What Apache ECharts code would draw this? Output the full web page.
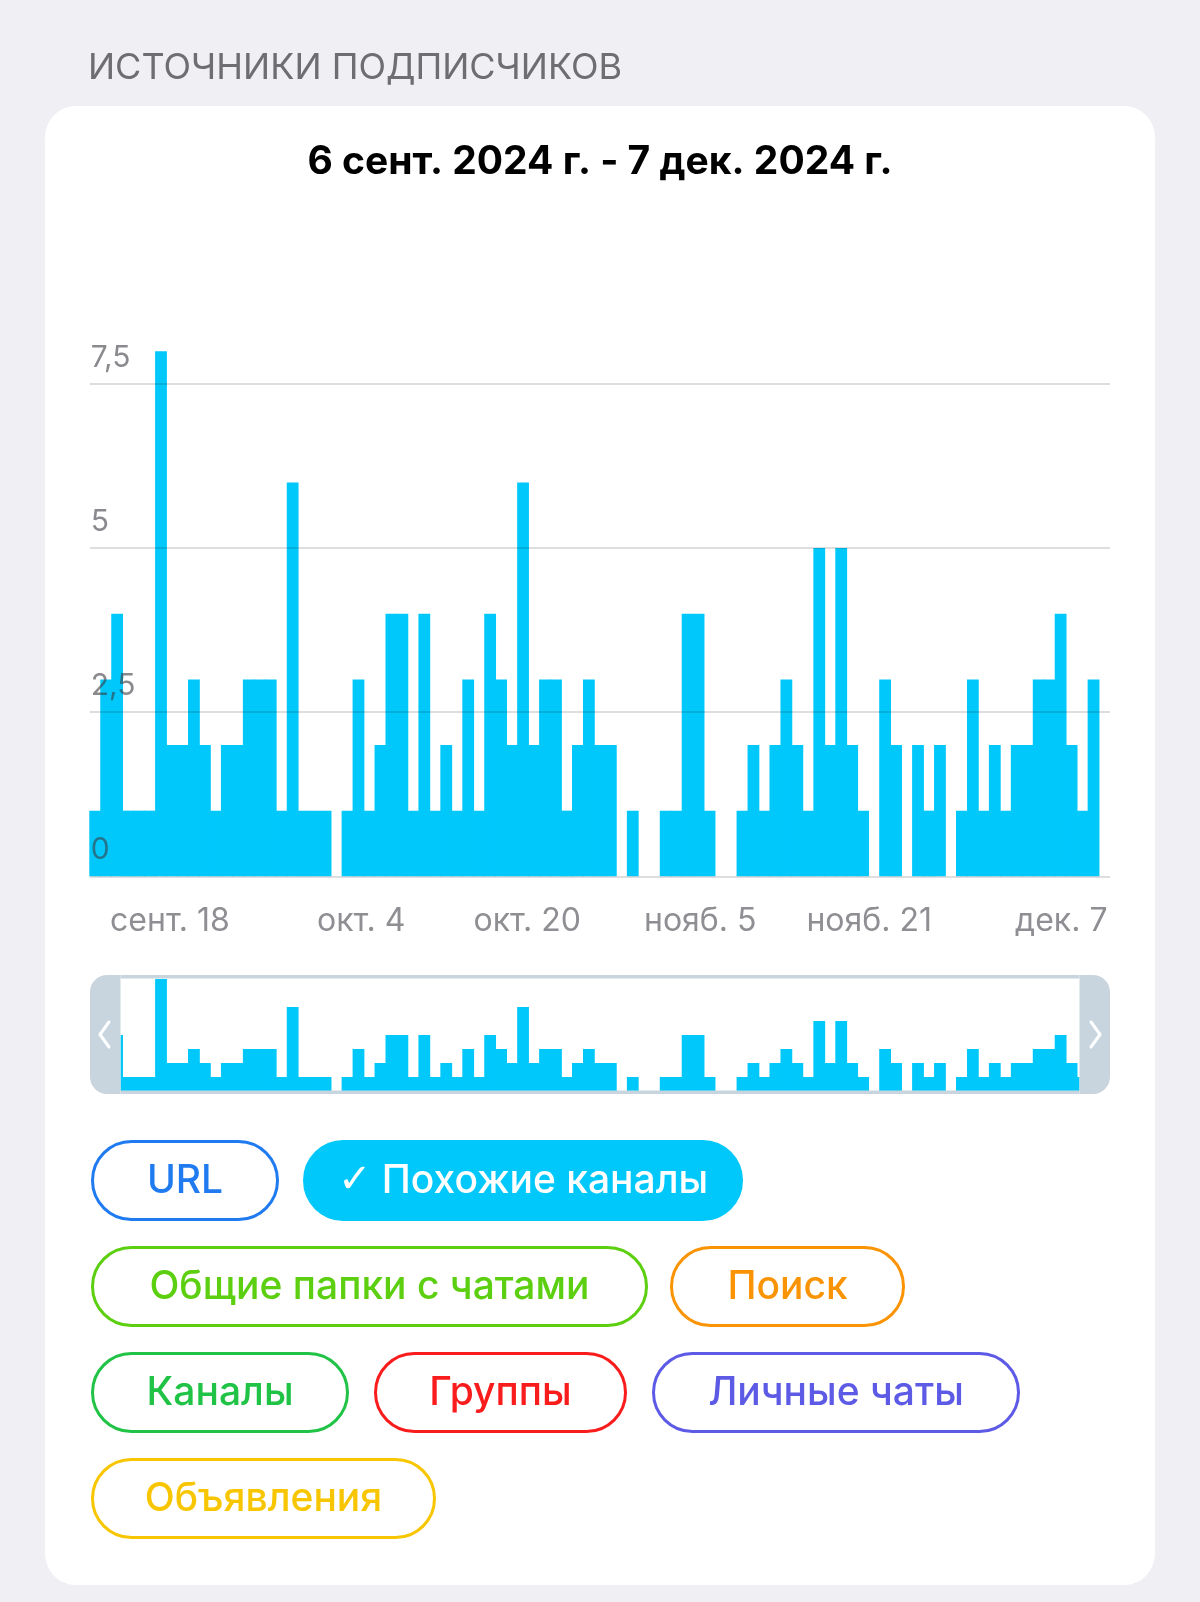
<!DOCTYPE html>
<html><head><meta charset="utf-8">
<script src="https://cdn.jsdelivr.net/npm/echarts@6/dist/echarts.min.js"></script>
<style>html,body{margin:0;padding:0;background:#efeff4}#c{width:1200px;height:1602px}</style>
</head><body><div id="c"></div><script>
// ---- data ----
const monthNames = ['янв.','февр.','мар.','апр.','мая','июня','июля','авг.','сент.','окт.','нояб.','дек.'];
const firstDay = Date.UTC(2024, 8, 6);   // 6 сент. 2024
const dayCount = 93;                     // through 7 дек. 2024
const categories = [];
for (let i = 0; i < dayCount; i++) {
  const d = new Date(firstDay + i * 86400000);
  categories.push(monthNames[d.getUTCMonth()] + ' ' + d.getUTCDate());
}
const similarChannels = [
  1,3,4,1,1,1,8,2,2,3,
  2,1,2,2,3,3,3,1,6,1,
  1,1,0,1,3,1,2,4,4,1,
  4,1,2,1,3,1,4,3,2,6,
  2,3,3,1,2,3,2,2,0,1,
  0,0,1,1,4,4,1,0,0,1,
  2,1,2,3,2,1,5,2,5,2,
  1,0,3,2,0,2,1,2,0,1,
  3,1,2,1,2,2,3,3,4,2,
  1,3,0
];
const xTickLabels = ['сент. 18','окт. 4','окт. 20','нояб. 5','нояб. 21','дек. 7'];
const yTicks = [0, 2.5, 5, 7.5];
const headerText = 'ИСТОЧНИКИ ПОДПИСЧИКОВ';
const rangeText = '6 сент. 2024 г. - 7 дек. 2024 г.';
const sourceNames = ['URL','Похожие каналы','Общие папки с чатами','Поиск','Каналы','Группы','Личные чаты','Объявления'];
const sourceColors = ['#1f7bef','#00c8fb','#5ccf10','#fb9404','#20c346','#f91c1c','#5d5ae6','#f8c600'];
const selectedSource = 'Похожие каналы';

// ---- layout (pixels) ----
const pillBoxes = [
  [91,1140,188],[303,1140,440],
  [91,1246,557],[670,1246,235],
  [91,1352,258],[374,1352,253],[652,1352,368],
  [91,1458,345]
];
const pillH = 81;
const FONT = 'Inter, "Noto Sans", sans-serif';
const barColor = sourceColors[sourceNames.indexOf(selectedSource)];

const graphics = [];
graphics.push({type:'rect', z:-10, shape:{x:45,y:106,width:1110,height:1479,r:31}, style:{fill:'#ffffff'}});
// slider frame
const fx0 = 90, fx1 = 1110, fy0 = 975, fy1 = 1094, hw = 30.5;
const frameColor = '#c8d5de';
graphics.push({type:'rect', z:99, shape:{x:fx0-4,y:fy0-2,width:hw+4,height:fy1-fy0+4}, style:{fill:'#ffffff'}});
graphics.push({type:'rect', z:99, shape:{x:fx1-hw,y:fy0-2,width:hw+4,height:fy1-fy0+4}, style:{fill:'#ffffff'}});
graphics.push({type:'rect', z:100, shape:{x:fx0,y:fy0,width:hw,height:fy1-fy0,r:[17,0,0,17]}, style:{fill:frameColor}});
graphics.push({type:'rect', z:100, shape:{x:fx1-hw,y:fy0,width:hw,height:fy1-fy0,r:[0,17,17,0]}, style:{fill:frameColor}});
graphics.push({type:'rect', z:100, shape:{x:fx0+hw,y:fy0,width:fx1-fx0-2*hw,height:3.5}, style:{fill:frameColor}});
graphics.push({type:'rect', z:100, shape:{x:fx0+hw,y:fy1-3.5,width:fx1-fx0-2*hw,height:3.5}, style:{fill:frameColor}});
graphics.push({type:'polyline', z:101, shape:{points:[[109,1022],[100,1034.5],[109,1047]]}, style:{stroke:'#ffffff',lineWidth:3,fill:null,lineCap:'round',lineJoin:'round'}});
graphics.push({type:'polyline', z:101, shape:{points:[[1091,1022],[1100,1034.5],[1091,1047]]}, style:{stroke:'#ffffff',lineWidth:3,fill:null,lineCap:'round',lineJoin:'round'}});
// legend pills
sourceNames.forEach((name, i) => {
  const [x, y, w] = pillBoxes[i];
  const sel = name === selectedSource;
  const col = sourceColors[i];
  graphics.push({type:'rect', z:100, shape:{x:x+1.5,y:y+1.5,width:w-3,height:pillH-3,r:(pillH-3)/2},
    style:{fill: sel ? col : '#ffffff', stroke: col, lineWidth: 3}});
  graphics.push({type:'text', z:101, style:{
    text: sel ? '{c|✓} ' + name : name, x: x + w/2, y: y + pillH/2 + 1,
    align:'center', verticalAlign:'middle', fontSize:39, fontWeight:500, fontFamily:FONT,
    fill: sel ? '#ffffff' : col,
    rich: {c: {fontSize:40, fontFamily:'"DejaVu Sans", sans-serif', fontWeight:'normal', fill:'#ffffff'}}}});
});

const chart = echarts.init(document.getElementById('c'), null, {renderer:'canvas'});
chart.setOption({
  animation: false,
  backgroundColor: '#efeff4',
  title: [
    {text: headerText, left: 88, top: 50, padding: 0,
     textStyle:{fontSize:36, fontWeight:'normal', color:'#6d6d72', fontFamily:FONT}},
    {text: rangeText, left: 'center', top: 143, padding: 0,
     textStyle:{fontSize:39, fontWeight:'bold', color:'#000000', fontFamily:FONT}}
  ],
  grid: [
    {left: 89.7, width: 1020.3, top: 384, height: 492.3, outerBoundsMode:'none'},
    {left: 89.7, width: 1020.3, top: 979, height: 112, outerBoundsMode:'none'}
  ],
  xAxis: [
    {type:'category', gridIndex:0, data: categories, z:5,
     axisLine:{show:false}, axisTick:{show:false}, splitLine:{show:false},
     axisLabel:{interval:(idx, val) => xTickLabels.indexOf(val) >= 0, align:'right',
       color:'#8e8e93', fontSize:32, fontFamily:FONT, margin:29, padding:[0,-3,0,0]}},
    {type:'category', gridIndex:1, data: categories, show:false}
  ],
  yAxis: [
    {type:'value', gridIndex:0, min: yTicks[0], max: yTicks[yTicks.length-1], interval: yTicks[1]-yTicks[0], z:10,
     axisLine:{show:false}, axisTick:{show:false},
     splitLine:{lineStyle:{color:'rgba(0,0,0,0.13)', width:2}},
     axisLabel:{inside:true, margin:1, verticalAlign:'bottom', padding:[0,0,11,0],
       color:'rgba(60,60,67,0.6)', fontSize:30, fontFamily:FONT,
       formatter: v => String(v).replace('.', ',')}},
    {type:'value', gridIndex:1, min:0, max:8, show:false}
  ],
  series: [
    {name: selectedSource, type:'bar', xAxisIndex:0, yAxisIndex:0, data: similarChannels,
     barWidth: 11.8, clip:false, silent:true, itemStyle:{color: barColor}},
    {name: selectedSource + ' (обзор)', type:'bar', xAxisIndex:1, yAxisIndex:1, data: similarChannels,
     barWidth: 11.8, silent:true, itemStyle:{color: barColor}}
  ],
  graphic: graphics
});
</script></body></html>
